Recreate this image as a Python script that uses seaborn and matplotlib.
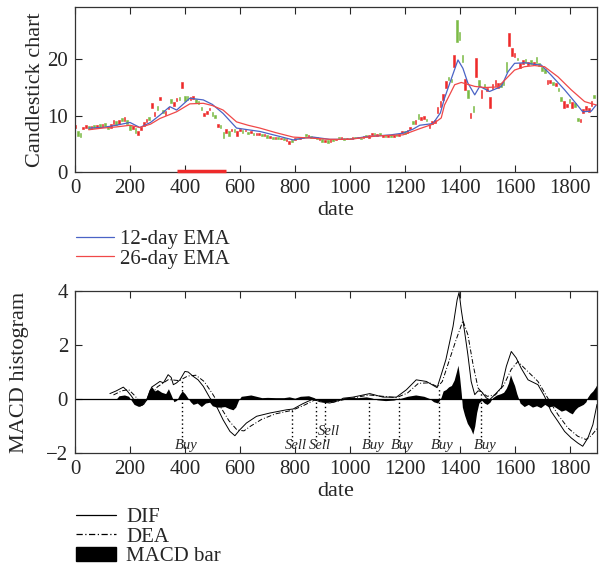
import numpy as np
import pandas as pd
import seaborn as sns
import matplotlib
matplotlib.use("Agg")
import matplotlib.pyplot as plt
from matplotlib.lines import Line2D
from matplotlib.patches import Patch

# ---------------- data ----------------
candle_dates = list(range(0, 1900, 10))
candle_open = [
    7.8, 7.2, 7.0, 7.6, 7.9, 8.2, 7.6, 8.3, 7.8, 8.5,
    8.0, 8.7, 8.0, 7.9, 8.6, 9.0, 8.5, 9.6, 9.1, 9.2,
    8.3, 7.6, 7.8, 6.5, 7.5, 8.2, 8.9, 9.8, 11.3, 10.0,
    11.8, 12.8, 11.0, 10.2, 11.2, 12.9, 11.8, 12.6, 13.4, 15.0,
    13.5, 13.5, 12.8, 13.0, 12.9, 12.6, 11.6, 10.0, 10.3, 11.0,
    10.6, 10.2, 8.0, 8.4, 7.1, 7.0, 7.3, 7.2, 7.6, 6.4,
    7.3, 7.5, 7.2, 7.1, 6.9, 7.0, 6.6, 6.5, 6.8, 6.4,
    6.5, 6.0, 6.3, 5.9, 6.2, 5.8, 6.0, 5.5, 5.0, 5.6,
    5.6, 6.1, 5.9, 6.3, 6.8, 6.2, 6.4, 6.0, 6.2, 5.6,
    5.8, 5.3, 5.6, 5.4, 5.8, 5.6, 6.3, 5.9, 6.0, 5.8,
    6.1, 5.8, 6.3, 6.0, 6.1, 6.0, 6.5, 6.1, 6.6, 7.0,
    6.4, 6.9, 6.3, 6.6, 6.2, 6.5, 6.3, 6.7, 6.4, 6.9,
    7.2, 7.0, 7.6, 9.0, 8.6, 10.3, 9.2, 9.4, 9.5, 7.9,
    8.5, 8.7, 10.4, 11.6, 12.8, 14.9, 16.8, 16.6, 18.7, 27.0,
    24.9, 20.7, 14.6, 14.5, 9.6, 11.7, 16.9, 16.4, 13.1, 15.6,
    14.4, 11.4, 14.8, 15.2, 15.0, 15.8, 16.2, 19.6, 22.3, 20.6,
    20.5, 20.3, 18.5, 19.2, 20.0, 19.0, 19.8, 19.0, 20.5, 19.4,
    18.6, 18.3, 15.7, 15.8, 16.0, 15.2, 15.0, 13.4, 11.4, 11.6,
    12.9, 11.4, 12.3, 9.6, 8.9, 10.4, 11.0, 10.6, 11.8, 13.6,
]
candle_close = [
    8.4, 6.4, 6.3, 8.0, 8.3, 7.7, 8.1, 7.9, 8.4, 8.0,
    8.6, 8.2, 7.6, 8.5, 9.2, 8.4, 9.3, 9.0, 9.7, 8.6,
    7.5, 8.1, 7.0, 7.2, 8.0, 8.8, 9.4, 9.2, 12.2, 10.6,
    11.0, 13.3, 10.5, 10.8, 11.6, 12.3, 12.4, 13.2, 12.8, 16.0,
    12.6, 12.7, 13.4, 13.5, 12.3, 12.0, 11.0, 10.5, 10.8, 11.4,
    9.9, 9.6, 8.5, 7.8, 6.0, 7.6, 6.4, 7.6, 7.1, 7.2,
    7.6, 7.0, 7.5, 6.7, 7.3, 6.6, 7.0, 6.9, 6.4, 6.7,
    6.1, 6.4, 5.9, 6.3, 5.8, 6.1, 5.6, 5.8, 5.5, 5.3,
    6.0, 5.8, 6.3, 6.0, 6.4, 6.5, 6.1, 6.3, 5.9, 6.0,
    5.4, 5.7, 5.2, 5.8, 5.5, 5.9, 6.0, 6.2, 5.7, 6.1,
    5.9, 6.2, 6.0, 6.3, 5.8, 6.4, 6.2, 6.5, 6.9, 6.6,
    6.8, 6.5, 6.6, 6.3, 6.5, 6.2, 6.6, 6.4, 6.8, 7.3,
    6.8, 7.5, 8.0, 8.6, 9.2, 9.4, 9.8, 10.0, 9.0, 8.5,
    9.1, 9.3, 11.5, 12.6, 13.9, 16.2, 16.3, 16.0, 20.8, 23.0,
    23.4, 19.5, 16.5, 13.1, 10.4, 10.6, 20.2, 15.2, 14.5, 15.0,
    14.9, 13.3, 15.6, 16.4, 15.8, 15.1, 15.5, 17.8, 24.6, 22.0,
    21.2, 19.8, 19.4, 19.8, 19.4, 19.6, 19.2, 19.6, 19.3, 18.8,
    18.0, 17.6, 16.3, 16.3, 15.4, 15.8, 14.4, 12.6, 12.6, 12.0,
    12.2, 12.4, 11.6, 9.1, 9.5, 11.2, 11.7, 11.4, 12.6, 13.1,
]

ema12_dates = [50, 100, 150, 200, 236, 275, 309, 345, 370, 418, 467, 500, 539, 588,
               630, 673, 730, 794, 830, 867, 927, 1000, 1050, 1097, 1150, 1194, 1230,
               1255, 1303, 1330, 1345, 1370, 1394, 1412, 1430, 1455, 1473, 1509, 1552,
               1576, 1600, 1640, 1673, 1697, 1733, 1782, 1818, 1848, 1879, 1897]
ema12 = [7.8, 7.9, 8.3, 8.8, 7.9, 8.8, 10.1, 11.6, 11.0, 13.1, 12.8, 12.0, 10.4, 7.8,
         7.5, 7.2, 6.5, 5.7, 6.0, 6.2, 5.8, 5.8, 6.2, 6.4, 6.6, 6.9, 7.6,
         8.3, 8.6, 10.5, 13.1, 16.6, 19.9, 18.4, 15.8, 13.7, 15.2, 14.3, 15.2,
         17.8, 19.3, 19.4, 19.1, 19.0, 17.2, 14.6, 12.5, 10.7, 10.8, 11.9]
ema26_dates = [50, 100, 150, 200, 236, 275, 309, 370, 418, 467, 500, 539, 588, 630,
               673, 730, 794, 867, 927, 1000, 1097, 1194, 1255, 1303, 1333, 1345, 1382,
               1406, 1455, 1491, 1539, 1564, 1600, 1636, 1673, 1709, 1758, 1806, 1855, 1897]
ema26 = [7.5, 7.8, 8.0, 8.3, 7.9, 8.5, 9.5, 10.7, 12.1, 12.2, 11.8, 11.0, 8.9, 8.3,
         7.8, 7.0, 6.2, 6.0, 5.8, 5.8, 6.4, 6.6, 7.7, 8.5, 9.6, 11.9, 15.5,
         15.9, 15.2, 15.0, 15.1, 16.3, 18.1, 18.7, 18.9, 18.7, 16.9, 14.6, 12.5, 11.9]

red_span = [371, 551]

dif_dates = [127, 150, 176, 190, 206, 222, 236, 250, 261, 279, 295, 309, 322, 339, 350,
             358, 370, 382, 400, 412, 430, 448, 467, 491, 515, 539, 564, 582, 600, 624,
             661, 709, 770, 794, 830, 867, 891, 927, 964, 976, 1012, 1073, 1121, 1170,
             1206, 1242, 1279, 1318, 1333, 1350, 1376, 1391, 1398, 1406, 1418, 1430,
             1442, 1455, 1467, 1479, 1497, 1509, 1527, 1552, 1570, 1588, 1606, 1624,
             1649, 1685, 1709, 1733, 1758, 1782, 1806, 1830, 1848, 1867, 1885, 1900]
dif = [0.2, 0.3, 0.44, 0.3, 0.1, -0.15, -0.27, -0.2, -0.03, 0.44, 0.55, 0.65, 0.6, 0.9, 0.8,
       0.53, 0.6, 0.71, 1.02, 1.0, 0.84, 0.71, 0.47, 0.04, -0.27, -0.77, -1.2, -1.36, -1.14, -0.89,
       -0.64, -0.52, -0.4, -0.37, -0.17, 0.0, -0.1, -0.15, -0.05, 0.03, 0.07, 0.2, 0.07, 0.07,
       0.34, 0.71, 0.65, 0.42, 0.9, 1.46, 2.69, 3.68, 3.95, 3.3, 2.5, 1.64,
       0.65, 0.16, 0.3, 0.28, 0.04, -0.03, 0.15, 0.42, 1.21, 1.76, 1.52, 1.14,
       0.71, 0.53, 0.1, -0.46, -0.83, -1.2, -1.44, -1.63, -1.75, -1.44, -0.95, -0.2]

dea_dates = [140, 170, 195, 215, 245, 270, 300, 340, 380, 410, 440, 470, 500, 530, 560,
             590, 615, 640, 680, 730, 790, 830, 870, 900, 940, 980, 1020, 1070, 1120,
             1170, 1210, 1250, 1290, 1320, 1337, 1361, 1385, 1412, 1430, 1449, 1467,
             1480, 1500, 1530, 1560, 1588, 1612, 1636, 1685, 1721, 1758, 1794, 1830,
             1860, 1880, 1900]
dea = [0.15, 0.3, 0.35, 0.15, -0.2, 0.05, 0.45, 0.72, 0.68, 0.85, 0.88, 0.65, 0.2, -0.3, -0.8,
       -1.15, -1.18, -1.0, -0.75, -0.55, -0.42, -0.25, -0.05, -0.05, -0.12, -0.02, 0.05, 0.15, 0.1,
       0.05, 0.22, 0.58, 0.6, 0.45, 0.65, 1.39, 2.13, 2.9, 2.38, 1.27, 0.41,
       0.25, 0.1, 0.15, 0.5, 1.1, 1.39, 1.14, 0.65, 0.03, -0.58, -1.07, -1.38,
       -1.5, -1.35, -1.1]

macd_dates = [150, 160, 180, 195, 205, 215, 230, 245, 258, 270, 280, 290, 300, 315, 330,
              340, 350, 360, 370, 380, 390, 400, 410, 420, 430, 445, 460, 475, 490, 500,
              515, 530, 545, 560, 575, 585, 595, 605, 620, 640, 660, 680, 700, 730, 760,
              780, 800, 820, 850, 870, 885, 900, 920, 940, 960, 980, 1000, 1030, 1060,
              1080, 1100, 1130, 1160, 1190, 1210, 1240, 1270, 1290, 1305, 1320, 1332,
              1340, 1350, 1360, 1370, 1380, 1388, 1394, 1400, 1406, 1410, 1418, 1428,
              1440, 1448, 1455, 1462, 1470, 1480, 1490, 1500, 1510, 1520, 1535, 1550,
              1560, 1570, 1578, 1585, 1592, 1600, 1608, 1615, 1620, 1635, 1650, 1665,
              1680, 1695, 1710, 1725, 1740, 1755, 1770, 1785, 1800, 1810, 1820, 1830,
              1840, 1850, 1860, 1865, 1875, 1885, 1895, 1900]
macd = [0.0, 0.12, 0.15, 0.1, -0.05, -0.2, -0.27, -0.22, 0.0, 0.35, 0.45, 0.3, 0.35, 0.25, 0.2,
        0.38, 0.15, -0.1, -0.05, 0.15, 0.3, 0.2, 0.05, -0.1, -0.2, -0.15, -0.28, -0.15, -0.12, -0.25,
        -0.3, -0.3, -0.28, -0.35, -0.4, -0.3, -0.05, 0.1, 0.12, 0.15, 0.1, 0.05, 0.06, 0.05, 0.05,
        0.08, 0.03, 0.1, 0.12, 0.05, -0.05, -0.1, -0.12, -0.08, -0.02, 0.05, 0.06, 0.05, 0.08,
        0.04, -0.03, -0.06, -0.04, 0.04, 0.1, 0.15, 0.1, 0.02, -0.1, -0.15, 0.05,
        0.3, 0.35, 0.45, 0.5, 0.7, 1.0, 1.25, 0.8, 0.2, -0.3, -0.6, -0.9,
        -1.1, -1.3, -1.0, -0.5, -0.15, -0.05, -0.15, -0.2, -0.12, 0.05, 0.15, 0.2,
        0.25, 0.4, 0.6, 0.9, 0.7, 0.5, 0.2, 0.0, -0.15, -0.28, -0.2, -0.3,
        -0.25, -0.32, -0.2, -0.3, -0.25, -0.35, -0.45, -0.4, -0.5, -0.55, -0.4, -0.3,
        -0.25, -0.2, -0.1, 0.05, 0.2, 0.3, 0.45, 0.55]

signal_dates = [390, 790, 879, 909, 1070, 1178, 1324, 1479]
signal_tops = [0.7, -0.38, 0.0, -0.1, 0.15, 0.05, 0.45, 0.28]
signal_labels = ["Buy", "Sell", "Sell", "Sell", "Buy", "Buy", "Buy", "Buy"]
signal_label_y = [-1.72, -1.72, -1.72, -1.2, -1.72, -1.72, -1.72, -1.72]

xticks = [0, 200, 400, 600, 800, 1000, 1200, 1400, 1600, 1800]

# ---------------- style ----------------
sns.set_theme(style="ticks")
plt.rcParams["font.family"] = ["Liberation Serif", "DejaVu Serif"]
plt.rcParams["font.size"] = 16
plt.rcParams["xtick.direction"] = "in"
plt.rcParams["ytick.direction"] = "in"
plt.rcParams["axes.edgecolor"] = "#333333"

RED = "#ee2a2a"
GREEN = "#7cbb46"
BLUE = "#4a63c6"
LRED = "#f04848"
FS = 16
TS = 15

fig = plt.figure(figsize=(6.02, 5.67), dpi=100)
ax1 = fig.add_axes([75 / 602, 1 - 172 / 567, 522 / 602, 165 / 567])
ax2 = fig.add_axes([75 / 602, 1 - 453 / 567, 522 / 602, 162 / 567])

# ---- top: candlesticks + EMA ----
cdf = pd.DataFrame({"date": candle_dates, "open": candle_open, "close": candle_close})
cdf["up"] = cdf["close"] >= cdf["open"]
cols = [RED if u else GREEN for u in cdf["up"]]
ax1.bar(cdf["date"], cdf["close"] - cdf["open"], bottom=cdf["open"], width=6,
        color=cols, edgecolor=cols, linewidth=0.4)
sns.lineplot(x=ema12_dates, y=ema12, ax=ax1, color=BLUE, linewidth=0.9)
sns.lineplot(x=ema26_dates, y=ema26, ax=ax1, color=LRED, linewidth=0.9)
ax1.hlines(0.1, red_span[0], red_span[1], color=RED, linewidth=2.5, zorder=10,
           clip_on=False)

ax1.set_xlim(0, 1900)
ax1.set_ylim(0, 29.3)
ax1.set_yticks([0, 10, 20])
ax1.set_xticks(xticks)
ax1.set_xlabel("date", labelpad=2, fontsize=FS)
ax1.set_ylabel("Candlestick chart", labelpad=2, fontsize=FS)

# ---- bottom: MACD ----
ax2.fill_between(macd_dates, 0, macd, color="black", linewidth=0)
ax2.axhline(0, color="black", linewidth=0.9)
sns.lineplot(x=dif_dates, y=dif, ax=ax2, color="black", linewidth=0.7)
sns.lineplot(x=dea_dates, y=dea, ax=ax2, color="black", linewidth=0.7,
             dashes=False)
ax2.lines[-1].set_dashes([5, 2, 1, 2])
for d, t, lab, ly in zip(signal_dates, signal_tops, signal_labels, signal_label_y):
    ax2.vlines(d, -1.55, t, colors="black", linestyles=(0, (1, 2)), linewidth=1.0)
    ax2.text(d + 14, ly, lab, ha="center", va="center", fontsize=10.5, style="italic")

ax2.set_xlim(0, 1900)
ax2.set_ylim(-2, 4)
ax2.set_yticks([-2, 0, 2, 4])
ax2.set_xticks(xticks)
ax2.set_xlabel("date", labelpad=2, fontsize=FS)
ax2.set_ylabel("MACD histogram", labelpad=12, fontsize=FS)

for ax in (ax1, ax2):
    ax.tick_params(which="both", top=True, right=True, length=5, width=0.8,
                   labelsize=TS, pad=5)
    for s in ax.spines.values():
        s.set_linewidth(0.9)
        s.set_visible(True)

# ---- legends ----
h1 = [Line2D([], [], color=BLUE, lw=0.9), Line2D([], [], color=LRED, lw=0.9)]
fig.legend(h1, ["12-day EMA", "26-day EMA"], loc="upper left",
           bbox_to_anchor=(66 / 602, 1 - 219 / 567), frameon=False,
           handlelength=1.8, handletextpad=0.3, labelspacing=0.0,
           borderpad=0.0, fontsize=15)
h2 = [Line2D([], [], color="black", lw=0.9),
      Line2D([], [], color="black", lw=0.9, dashes=[5, 2, 1, 2]),
      Patch(facecolor="black", edgecolor="black")]
fig.legend(h2, ["DIF", "DEA", "MACD bar"], loc="upper left",
           bbox_to_anchor=(66 / 602, 1 - 497 / 567), frameon=False,
           handlelength=1.9, handletextpad=0.5, labelspacing=0.0,
           borderpad=0.0, fontsize=15)

fig.savefig("out.png", dpi=100)
